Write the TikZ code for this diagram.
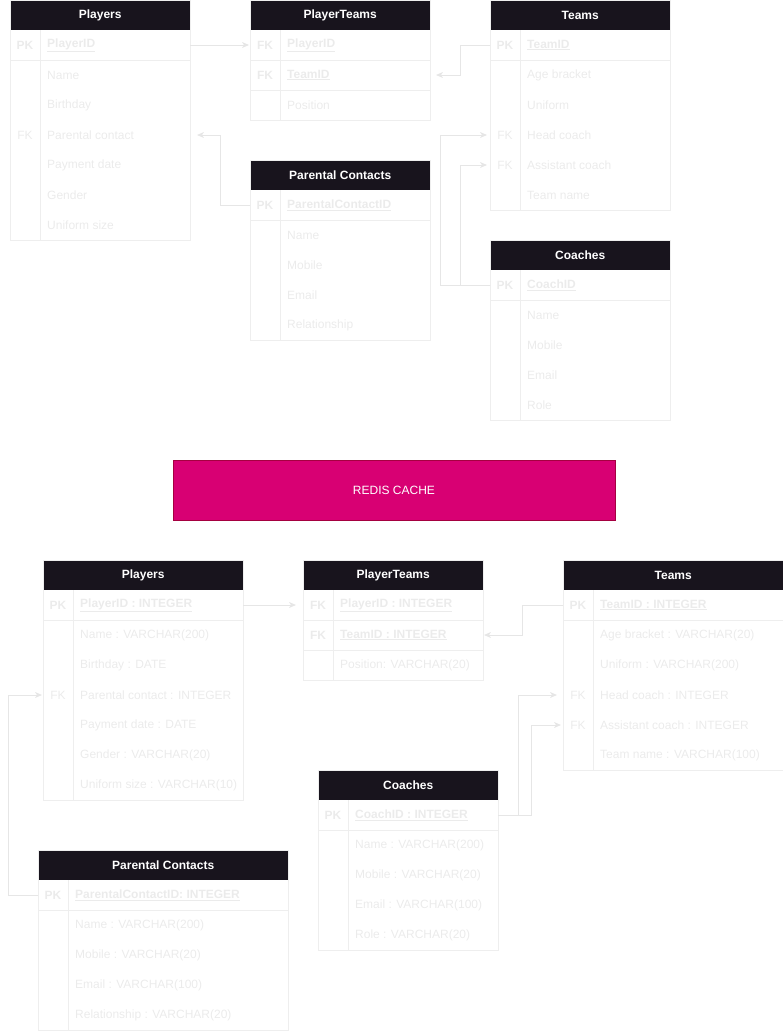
\documentclass[tikz,border=0pt]{standalone}
\usepackage{fontspec}
\setmainfont{Liberation Sans}
\usetikzlibrary{arrows.meta}

\definecolor{erdark}{HTML}{18141D}
\definecolor{erline}{HTML}{EEEEEE}
\definecolor{ertext}{HTML}{EBEBEB}
\definecolor{erlink}{HTML}{E6E6E6}
\definecolor{cachefill}{HTML}{D80073}
\definecolor{cachedraw}{HTML}{A50040}

\newcommand{\erfont}{\fontsize{12}{14}\selectfont}

\tikzset{
    erhead/.style={anchor=north west,minimum height=30pt,inner sep=0pt,fill=erdark,text=white,font=\erfont\bfseries},
    errow/.style={anchor=north west,minimum height=30pt,inner sep=0pt,outer sep=0pt},
    erkey/.style={inner sep=0pt,text=ertext,font=\erfont},
    erfield/.style={anchor=west,inner sep=0pt,text=ertext,font=\erfont},
    erframe/.style={draw=erline,line width=1pt},
    erarrow/.style={draw=erlink,line width=1pt,-{Stealth[length=7pt,width=6pt,inset=2pt]}},
    cache/.style={minimum width=442pt,minimum height=60pt,fill=cachefill,draw=cachedraw,text=white,font=\erfont}
}

% #1 name, #2 left, #3 top, #4 width, #5 title, #6 key rows, #7 rows, #8 key/field list
\newcommand{\ertable}[8]{%
    \node[erhead,minimum width=#4pt] (#1) at (#2,#3) {#5};
    \foreach [count=\i] \k/\f in {#8} {
        \node[errow,minimum width=#4pt] (#1-\i) at (#2,#3+30*\i) {};
        \ifnum\i>#6\relax
            \node[erkey] (#1-k\i) at ([xshift=15pt]#1-\i.west) {\k};
            \node[erfield] (#1-f\i) at ([xshift=37pt]#1-\i.west) {\f};
        \else
            \node[erkey,font=\erfont\bfseries] (#1-k\i) at ([xshift=15pt]#1-\i.west) {\k};
            \node[erfield,font=\erfont\bfseries] (#1-f\i) at ([xshift=37pt]#1-\i.west) {\underline{\f}};
        \fi
    }
    \draw[erframe] (#2,#3) rectangle ++(#4,30+30*#7);
    \draw[erframe] (#2+30,#3+30) -- ++(0,30*#7);
    \foreach \j in {1,...,#6} \draw[erframe] (#2,#3+30+30*\j) -- ++(#4,0);
}

\begin{document}
\begin{tikzpicture}[x=1pt,y=-1pt]
    \useasboundingbox (0,0) rectangle (783,1031);

    % plain model
    \ertable{pl}{10}{0}{180}{Players}{1}{7}{PK/PlayerID, /Name, /Birthday, FK/Parental contact, /Payment date, /Gender, /Uniform size}
    \ertable{pt}{250}{0}{180}{PlayerTeams}{2}{3}{FK/PlayerID, FK/TeamID, /Position}
    \ertable{tm}{490}{0}{180}{Teams}{1}{6}{PK/TeamID, /Age bracket, /Uniform, FK/Head coach, FK/Assistant coach, /Team name}
    \ertable{pc}{250}{160}{180}{Parental Contacts}{1}{5}{PK/ParentalContactID, /Name, /Mobile, /Email, /Relationship}
    \ertable{co}{490}{240}{180}{Coaches}{1}{5}{PK/CoachID, /Name, /Mobile, /Email, /Role}

    \draw[erarrow,shorten >=1pt] (pl-1.east) -- (pt-1.west);
    \draw[erarrow,shorten >=6pt] (tm-1.west) -- ++(-30,0) |- (pt-2.east);
    \draw[erarrow,shorten >=7pt] (pc-1.west) -- ++(-30,0) |- (pl-4.east);
    \draw[erarrow,shorten >=3pt] (co-1.west) -- ++(-50,0) |- (tm-4.west);
    \draw[erarrow,shorten >=3pt] (co-1.west) -- ++(-30,0) |- (tm-5.west);

    \node[cache] (redis) at (394,490) {REDIS CACHE};

    % typed model
    \ertable{bpl}{43}{560}{200}{Players}{1}{7}{PK/PlayerID : INTEGER, /Name : VARCHAR(200), /Birthday : DATE, FK/Parental contact : INTEGER, /Payment date : DATE, /Gender : VARCHAR(20), /Uniform size : VARCHAR(10)}
    \ertable{bpt}{303}{560}{180}{PlayerTeams}{2}{3}{FK/PlayerID : INTEGER, FK/TeamID : INTEGER, /Position: VARCHAR(20)}
    \ertable{btm}{563}{560}{220}{Teams}{1}{6}{PK/TeamID : INTEGER, /Age bracket : VARCHAR(20), /Uniform : VARCHAR(200), FK/Head coach : INTEGER, FK/Assistant coach : INTEGER, /Team name : VARCHAR(100)}
    \ertable{bco}{318}{770}{180}{Coaches}{1}{5}{PK/CoachID : INTEGER, /Name : VARCHAR(200), /Mobile : VARCHAR(20), /Email : VARCHAR(100), /Role : VARCHAR(20)}
    \ertable{bpc}{38}{850}{250}{Parental Contacts}{1}{5}{PK/ParentalContactID: INTEGER, /Name : VARCHAR(200), /Mobile : VARCHAR(20), /Email : VARCHAR(100), /Relationship : VARCHAR(20)}

    \draw[erarrow,shorten >=7pt] (bpl-1.east) -- (bpt-1.west);
    \draw[erarrow,shorten >=1pt] (btm-1.west) -- ++(-41,0) |- (bpt-2.east);
    \draw[erarrow,shorten >=1pt] (bpc-1.west) -- ++(-30,0) |- (bpl-4.west);
    \draw[erarrow,shorten >=6pt] (bco-1.east) -- ++(20,0) |- (btm-4.west);
    \draw[erarrow,shorten >=2pt] (bco-1.east) -- ++(33,0) |- (btm-5.west);
\end{tikzpicture}
\end{document}
